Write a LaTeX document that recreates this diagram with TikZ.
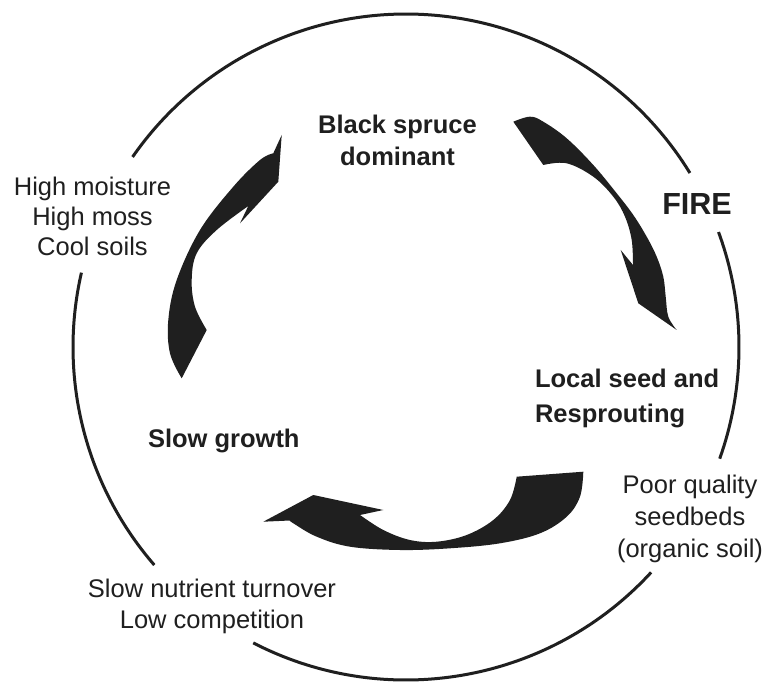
\documentclass[tikz,border=0pt]{standalone}
\usepackage{fontspec}
\setmainfont{Liberation Sans}
\usetikzlibrary{calc}
\begin{document}
\begin{tikzpicture}[x=1pt,y=-1pt,
  ring/.style={line width=3pt,draw=black!88},
  arrowfill/.style={fill=black!88},
  lbl/.style={inner sep=0pt,outer sep=0pt,text=black!88,font=\fontsize{25.5}{30}\selectfont},
  boldlbl/.style={lbl,font=\fontsize{25.5}{32}\selectfont\bfseries}]
\useasboundingbox[fill=white] (0,0) rectangle (768,684);
\coordinate (c) at (406,347);
% outer cycle ring, broken by the labels
\draw[ring] ($(c)+(-145.2:333)$) arc[start angle=-145.2,end angle=-31.5,radius=333];
\draw[ring] ($(c)+(-20.2:333)$) arc[start angle=-20.2,end angle=19.6,radius=333];
\draw[ring] ($(c)+(42.6:333)$) arc[start angle=42.6,end angle=117.3,radius=333];
\draw[ring] ($(c)+(139.1:333)$) arc[start angle=139.1,end angle=192.9,radius=333];
% left arrow (upwards)
\fill[arrowfill] (281.7,135) -- (278.3,181.7) -- (240,223.3) -- (248.3,206)
  -- plot[smooth,tension=0.6] coordinates {(248.3,206) (216.7,230) (196.7,253.3) (191.7,280) (195,306.7) (206.7,330)}
  -- (181.7,378.3)
  -- plot[smooth,tension=0.6] coordinates {(181.7,378.3) (170,353.3) (168.3,320) (176.7,280) (200,230) (233.3,186.7) (260,160) (273.3,153.3)}
  -- cycle;
% right arrow (downwards)
\fill[arrowfill] (513.3,121.7) -- (543.3,165)
  -- plot[smooth,tension=0.6] coordinates {(543.3,165) (566.7,163.3) (593.3,176.7) (613.3,196.7) (625,216.7) (631.7,240) (633,265)}
  -- (620.7,250) -- (638.3,303.3) -- (676.7,330)
  -- plot[smooth,tension=0.6] coordinates {(676.7,330) (668.3,316.7) (665.7,296.7) (663.3,276.7) (656.7,256.7) (646.7,236.7) (633.3,215) (616.7,193.3) (593.3,165) (566.7,138.3) (543.3,121.7) (530,116.7) (513.3,121.7)}
  -- cycle;
% bottom arrow (leftwards)
\fill[arrowfill] (516.7,476.7) -- (583.3,471.7)
  -- plot[smooth,tension=0.6] coordinates {(583.3,471.7) (580,496.7) (566.7,516.7) (540,533.3) (500,543.3) (450,548.3) (400,550) (350,546.7) (316.7,536.7) (293.3,523.3) (290,520.5)}
  -- (263.3,521.7) -- (313.3,495) -- (383.3,510) -- (360,515)
  -- plot[smooth,tension=0.6] coordinates {(360,515) (383.3,530) (410,540) (436.7,541.7) (466.7,535) (493.3,520) (510,500) (516.7,476.7)}
  -- cycle;
% labels
\node[boldlbl,align=center,anchor=north] (spruce) at (397.5,114.7) {Black spruce\\dominant};
\node[lbl,font=\fontsize{30.5}{36}\selectfont\bfseries,anchor=base] (fire) at (697,215) {FIRE};
\node[boldlbl,font=\fontsize{25.5}{35}\selectfont\bfseries,align=left,anchor=north west] (seed) at (535,368.7) {Local seed and\\Resprouting};
\node[boldlbl,anchor=base west] (slow) at (148,447) {Slow growth};
\node[lbl,align=center,anchor=north] (moist) at (92.5,176.7) {High moisture\\High moss\\Cool soils};
\node[lbl,font=\fontsize{25.5}{32}\selectfont,align=center,anchor=north] (poor) at (690,474.7) {Poor quality\\seedbeds\\(organic soil)};
\node[lbl,font=\fontsize{25.5}{31}\selectfont,align=center,anchor=north] (nutr) at (212,578.7) {Slow nutrient turnover\\Low competition};
\end{tikzpicture}
\end{document}
